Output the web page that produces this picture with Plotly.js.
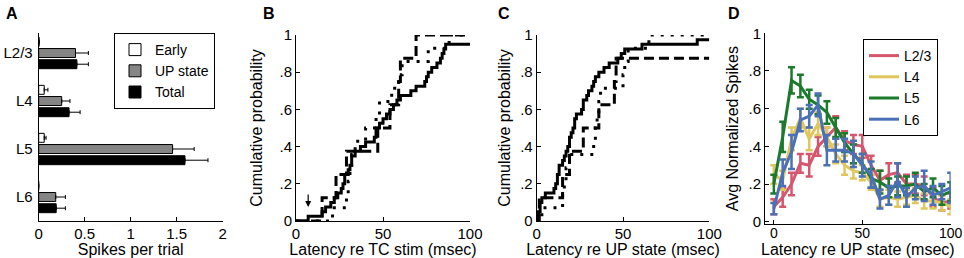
<!DOCTYPE html>
<html><head><meta charset="utf-8">
<script src="https://cdn.plot.ly/plotly-3.0.1.min.js"></script>
<style>html,body{margin:0;padding:0;background:#fff}#chart{width:964px;height:258px}</style>
</head><body><div id="chart"></div>
<script>
// ---------- Panel A data ----------
const layers = ['L2/3','L4','L5','L6'];
const earlySpikes = [0.005, 0.06, 0.06, 0];
const earlyErr    = [0, 0.04, 0.02, 0];
const upSpikes    = [0.40, 0.25, 1.455, 0.185];
const upErr       = [0.14, 0.09, 0.235, 0.105];
const totalSpikes = [0.415, 0.33, 1.59, 0.19];
const totalErr    = [0.125, 0.12, 0.25, 0.10];
const zeros4      = [0, 0, 0, 0];

// ---------- Panel B data (latency re TC stim) ----------
const bSolidX  = [0,7,15,17,20,22,24,26,27,28,30,31,32,34,37,40,45,46,48,50,52,54,56,58,60,66,69,74,75,76,78,81,83,84,85,86,100];
const bSolidY  = [0,.025,.05,.075,.1,.125,.15,.175,.2,.25,.275,.3,.35,.375,.4,.425,.45,.5,.525,.55,.575,.6,.625,.65,.675,.7,.725,.75,.775,.8,.825,.85,.875,.9,.925,.95,.95];
const bDashX   = [0,15,23,29,47,54,59,60,69,100];
const bDashY   = [0,.125,.25,.375,.5,.625,.75,.875,1,1];
const bDotX    = [0,21,29,30,31,32,34,40,46,48,55,59,61,76,88,100];
const bDotY    = [0,.071,.143,.214,.286,.357,.429,.5,.571,.643,.714,.786,.857,.929,1,1];

// ---------- Panel C data (latency re UP state) ----------
const cSolidX  = [0,1,2,3,5,10,11,12,13,15,16,17,18,19,20,21,22,23,26,27,29,30,32,33,34,36,39,42,47,49,51,61,93,100];
const cSolidY  = [0,.05,.1,.125,.15,.175,.2,.25,.3,.325,.35,.375,.4,.45,.475,.5,.55,.575,.6,.65,.675,.7,.725,.75,.775,.8,.825,.85,.875,.9,.925,.95,.975,.975];
const cDashX   = [0,1.5,15,19,27,36,45,46,100];
const cDashY   = [0,.125,.25,.375,.5,.625,.75,.875,.875];
const cDotX    = [0,3,15,16,17,19,33,34,35,36,37,50,51,53,65,100];
const cDotY    = [0,.071,.143,.214,.286,.357,.429,.5,.571,.643,.714,.786,.857,.929,1,1];

// ---------- Panel D data ----------
const latD = [0,5,10,15,20,25,30,35,40,45,50,55,60,65,70,75,80,85,90,95,100];
const dL23    = [0.08,0.13,0.2,0.31,0.3,0.4,0.45,0.5,0.43,0.41,0.4,0.3,0.22,0.25,0.26,0.2,0.2,0.19,0.13,0.1,0.11];
const dL23Err = [0.04,0.05,0.06,0.05,0.06,0.05,0.05,0.06,0.05,0.05,0.06,0.05,0.05,0.06,0.05,0.05,0.05,0.05,0.05,0.04,0.04];
const dL4     = [0.25,0.22,0.44,0.55,0.44,0.52,0.45,0.36,0.3,0.27,0.26,0.21,0.12,0.13,0.12,0.13,0.14,0.11,0.11,0.1,0.08];
const dL4Err  = [0.05,0.05,0.06,0.05,0.06,0.06,0.05,0.05,0.05,0.04,0.04,0.04,0.04,0.04,0.04,0.04,0.04,0.04,0.04,0.04,0.04];
const dL5     = [0.2,0.45,0.75,0.72,0.65,0.62,0.58,0.5,0.42,0.36,0.31,0.23,0.21,0.18,0.19,0.19,0.2,0.16,0.18,0.14,0.16];
const dL5Err  = [0.05,0.08,0.07,0.06,0.05,0.05,0.06,0.05,0.05,0.05,0.05,0.05,0.06,0.05,0.05,0.05,0.06,0.04,0.05,0.05,0.05];
const dL6     = [0.07,0.26,0.37,0.54,0.56,0.62,0.38,0.38,0.38,0.36,0.3,0.25,0.12,0.14,0.22,0.13,0.18,0.19,0.14,0.16,0.18];
const dL6Err  = [0.03,0.07,0.09,0.06,0.06,0.06,0.08,0.06,0.06,0.07,0.06,0.07,0.05,0.05,0.09,0.05,0.06,0.08,0.05,0.04,0.08];

// ---------- Tick labels ----------
const probTickVals = [0,0.2,0.4,0.6,0.8,1];
const probTickText = ['0','.2','.4','.6','.8','1'];
const spikeTickVals = [0,0.5,1,1.5,2];
const spikeTickText = ['0','0.5','1','1.5','2'];
const latTickVals = [0,50,100];
const latTickText = ['0','50','100'];

const FONT = 'Liberation Sans, Arial, Helvetica, sans-serif';
const W = 964, H = 258;
const px = v => v / W;
const py = v => 1 - v / H;

const barLine = {color:'#000', width:1};
function errX(arr){ return {type:'data', array:arr, arrayminus:zeros4, symmetric:false, color:'#000', thickness:1, width:2}; }

const traces = [
  {type:'bar', orientation:'h', name:'Early', y:layers, x:earlySpikes, marker:{color:'#fff', line:barLine}, error_x:errX(earlyErr), xaxis:'x', yaxis:'y', legend:'legend'},
  {type:'bar', orientation:'h', name:'UP state', y:layers, x:upSpikes, marker:{color:'#858585', line:barLine}, error_x:errX(upErr), xaxis:'x', yaxis:'y', legend:'legend'},
  {type:'bar', orientation:'h', name:'Total', y:layers, x:totalSpikes, marker:{color:'#000', line:barLine}, error_x:errX(totalErr), xaxis:'x', yaxis:'y', legend:'legend'},

  {type:'scatter', mode:'lines', x:bDotX, y:bDotY, line:{shape:'hv', color:'#000', width:3, dash:'3px,7px'}, xaxis:'x2', yaxis:'y2', showlegend:false, cliponaxis:false},
  {type:'scatter', mode:'lines', x:bDashX, y:bDashY, line:{shape:'hv', color:'#000', width:3, dash:'10px,5px'}, xaxis:'x2', yaxis:'y2', showlegend:false, cliponaxis:false},
  {type:'scatter', mode:'lines', x:bSolidX, y:bSolidY, line:{shape:'hv', color:'#000', width:3}, xaxis:'x2', yaxis:'y2', showlegend:false, cliponaxis:false},

  {type:'scatter', mode:'lines', x:cDotX, y:cDotY, line:{shape:'hv', color:'#000', width:3, dash:'3px,7px'}, xaxis:'x3', yaxis:'y3', showlegend:false, cliponaxis:false},
  {type:'scatter', mode:'lines', x:cDashX, y:cDashY, line:{shape:'hv', color:'#000', width:3, dash:'10px,5px'}, xaxis:'x3', yaxis:'y3', showlegend:false, cliponaxis:false},
  {type:'scatter', mode:'lines', x:cSolidX, y:cSolidY, line:{shape:'hv', color:'#000', width:3}, xaxis:'x3', yaxis:'y3', showlegend:false, cliponaxis:false},
];

const dSeries = [
  ['L2/3', dL23, dL23Err, '#d6566e'],
  ['L4',   dL4,  dL4Err,  '#dfc75e'],
  ['L5',   dL5,  dL5Err,  '#1b7a2b'],
  ['L6',   dL6,  dL6Err,  '#4a70b8'],
];
dSeries.forEach(([name, ys, es, col]) => {
  traces.push({type:'scatter', mode:'lines', name:name, x:latD, y:ys,
    line:{color:col, width:3},
    error_y:{type:'data', array:es, color:col, thickness:2.5, width:3.5},
    xaxis:'x4', yaxis:'y4', legend:'legend2', cliponaxis:false});
});

const tickFont = {family:FONT, size:15, color:'#000'};
const titleFont = {family:FONT, size:16, color:'#000'};
function baseAxis(extra){
  return Object.assign({showline:true, linecolor:'#000', linewidth:1, ticks:'inside', ticklen:4, tickcolor:'#000',
    showgrid:false, zeroline:false, tickfont:tickFont, fixedrange:true, automargin:false}, extra);
}

const layout = {
  width:W, height:H, margin:{l:0,r:0,t:0,b:0}, paper_bgcolor:'#fff', plot_bgcolor:'rgba(0,0,0,0)',
  font:{family:FONT, size:15, color:'#000'},
  barmode:'group', bargap:0.3, bargroupgap:0.2,
  // Panel A
  xaxis: baseAxis({domain:[px(38.7), px(222.7)], anchor:'y', range:[0,2], tickvals:spikeTickVals, ticktext:spikeTickText,
    ticklabelstandoff:-1, title:{text:'Spikes per trial', font:titleFont, standoff:3}}),
  yaxis: baseAxis({domain:[py(221), py(33)], anchor:'x', type:'category', range:[3.5,-0.417], ticks:'', ticklabelstandoff:2}),
  // Panel B
  xaxis2: baseAxis({domain:[px(296), px(470)], anchor:'y2', range:[0,100], tickvals:latTickVals, ticktext:latTickText,
    ticklabelstandoff:-1, title:{text:'Latency re TC stim (msec)', font:titleFont, standoff:3}}),
  yaxis2: baseAxis({domain:[py(221), py(35)], anchor:'x2', range:[0,1], tickvals:probTickVals, ticktext:probTickText,
    title:{text:'Cumulative probability', font:titleFont, standoff:12}}),
  // Panel C
  xaxis3: baseAxis({domain:[px(536.7), px(709.3)], anchor:'y3', range:[0,100], tickvals:latTickVals, ticktext:latTickText,
    ticklabelstandoff:-1, title:{text:'Latency re UP state (msec)', font:titleFont, standoff:3}}),
  yaxis3: baseAxis({domain:[py(221), py(35)], anchor:'x3', range:[0,1], tickvals:probTickVals, ticktext:probTickText,
    title:{text:'Cumulative probability', font:titleFont, standoff:5}}),
  // Panel D
  xaxis4: baseAxis({domain:[px(765), px(950.7)], anchor:'y4', range:[-5,100], tickvals:latTickVals, ticktext:latTickText,
    tickfont:{family:FONT, size:14, color:'#000'}, ticklabelstandoff:-4,
    title:{text:'Latency re UP state (msec)', font:titleFont, standoff:6}}),
  yaxis4: baseAxis({domain:[py(224), py(33.3)], anchor:'x4', range:[-0.012,1], tickvals:probTickVals, ticktext:probTickText,
    title:{text:'Avg Normalized Spikes', font:titleFont, standoff:5}}),
  legend: {x:px(114), y:py(33), xanchor:'left', yanchor:'top', bgcolor:'#fff', bordercolor:'#000', borderwidth:1,
    font:{family:FONT, size:14, color:'#000'}, traceorder:'normal', tracegroupgap:0, itemwidth:30},
  legend2: {x:px(863), y:py(39), xanchor:'left', yanchor:'top', bgcolor:'#fff', bordercolor:'#000', borderwidth:1,
    font:{family:FONT, size:14, color:'#000'}, traceorder:'normal', tracegroupgap:0, itemwidth:30},
  annotations: [
    {text:'<b>A</b>', xref:'paper', yref:'paper', x:px(4), y:py(3), xanchor:'left', yanchor:'top', showarrow:false, font:{family:FONT, size:16, color:'#000'}},
    {text:'<b>B</b>', xref:'paper', yref:'paper', x:px(261), y:py(3), xanchor:'left', yanchor:'top', showarrow:false, font:{family:FONT, size:16, color:'#000'}},
    {text:'<b>C</b>', xref:'paper', yref:'paper', x:px(496), y:py(3), xanchor:'left', yanchor:'top', showarrow:false, font:{family:FONT, size:16, color:'#000'}},
    {text:'<b>D</b>', xref:'paper', yref:'paper', x:px(726), y:py(3), xanchor:'left', yanchor:'top', showarrow:false, font:{family:FONT, size:16, color:'#000'}},
    {text:'', xref:'x2', yref:'y2', x:7, y:0.075, ax:0, ay:-14, showarrow:true, arrowhead:2, arrowsize:1, arrowwidth:1.2, arrowcolor:'#000'}
  ]
};

Plotly.newPlot('chart', traces, layout, {staticPlot:true, displayModeBar:false});
</script>
</body></html>
